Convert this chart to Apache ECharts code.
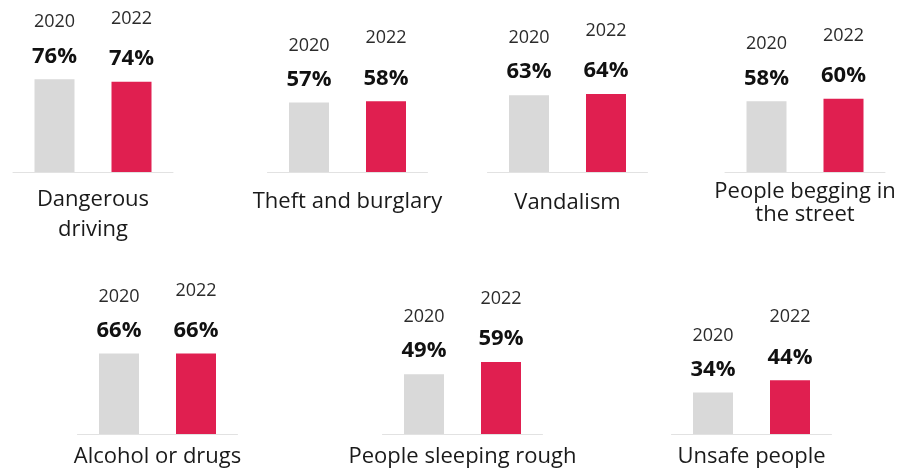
<!DOCTYPE html>
<html>
<head>
<meta charset="utf-8">
<script src="https://cdn.jsdelivr.net/npm/echarts@6/dist/echarts.min.js"></script>
<style>
  html, body { margin: 0; padding: 0; background: #fff; }
  #chart { width: 904px; height: 470px; }
</style>
</head>
<body>
<div id="chart"></div>
<script>
var categories = [
  "Dangerous\ndriving",
  "Theft and burglary",
  "Vandalism",
  "People begging in\nthe street",
  "Alcohol or drugs",
  "People sleeping rough",
  "Unsafe people"
];
var years = ["2020", "2022"];
var values2020 = [76, 57, 63, 58, 66, 49, 34];
var values2022 = [74, 58, 64, 60, 66, 59, 44];

// panel layout: centre x, baseline y, label margin / line height
var panels = [
  { cx: 93, base: 172, margin: 13, lh: 30 },
  { cx: 347.5, base: 172, margin: 18, lh: 24 },
  { cx: 567.5, base: 172, margin: 19, lh: 24 },
  { cx: 805, base: 172, margin: 8, lh: 23 },
  { cx: 157.5, base: 434, margin: 11, lh: 24 },
  { cx: 462.5, base: 434, margin: 11, lh: 24 },
  { cx: 751.5, base: 434, margin: 11, lh: 24 }
];

var FONT = "'Open Sans', Lato, sans-serif";
var colors = ["#d9d9d9", "#e01f50"];
var pxPerPct = 1.22;

var grids = [], xAxes = [], yAxes = [], series = [];

panels.forEach(function (p, i) {
  var h = 100 * pxPerPct;
  grids.push({ left: p.cx - 80, width: 160, top: p.base - h, height: h });
  xAxes.push({
    type: "category",
    gridIndex: i,
    data: [categories[i]],
    axisLine: { show: true, lineStyle: { color: "#e2e2e2", width: 1 } },
    axisTick: { show: false },
    axisLabel: {
      interval: 0,
      margin: p.margin,
      color: "#1a1a1a",
      fontSize: 22,
      lineHeight: p.lh,
      fontFamily: FONT
    }
  });
  yAxes.push({ type: "value", gridIndex: i, min: 0, max: 100, show: false });

  [values2020, values2022].forEach(function (vals, k) {
    series.push({
      type: "bar",
      name: years[k],
      xAxisIndex: i,
      yAxisIndex: i,
      barWidth: 40,
      barGap: "92.5%",
      data: [vals[i]],
      itemStyle: { color: colors[k] },
      silent: true,
      label: {
        show: true,
        position: "top",
        distance: 10,
        formatter: "{y|" + years[k] + "}\n{v|{c}%}",
        rich: {
          y: { fontSize: 18, color: "#2b2b2b", fontFamily: FONT, lineHeight: k === 0 ? 42 : 54 },
          v: { fontSize: 22, fontWeight: "bold", color: "#111", fontFamily: FONT, lineHeight: 26 }
        }
      }
    });
  });
});

var chart = echarts.init(document.getElementById("chart"));
chart.setOption({
  animation: false,
  grid: grids,
  xAxis: xAxes,
  yAxis: yAxes,
  series: series
});
</script>
</body>
</html>
